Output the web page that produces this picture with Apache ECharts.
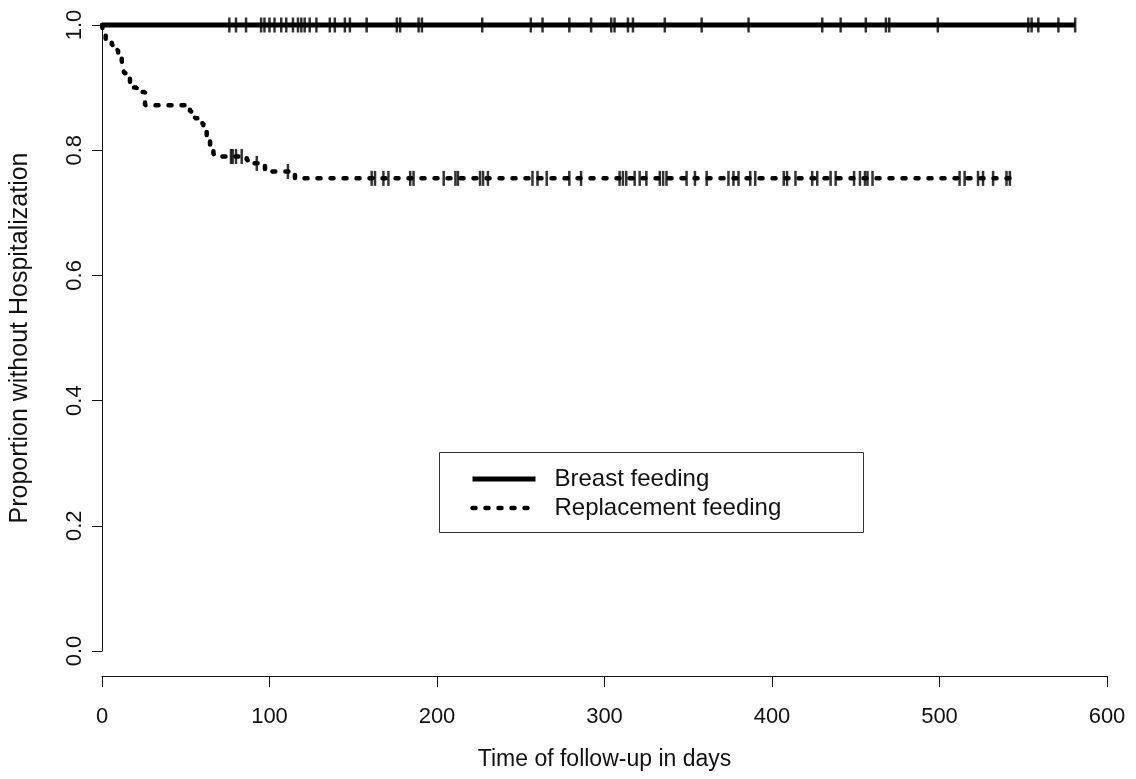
<!DOCTYPE html>
<html>
<head>
<meta charset="utf-8">
<script src="https://cdn.jsdelivr.net/npm/echarts@6/dist/echarts.min.js"></script>
<style>
html,body{margin:0;padding:0;background:#fff;}
#chart{width:1136px;height:779px;}
</style>
</head>
<body>
<div id="chart"></div>
<script>
// ---- data ----
const xTicks = [0, 100, 200, 300, 400, 500, 600];
const yTicks = [0.0, 0.2, 0.4, 0.6, 0.8, 1.0];

// Breast feeding: no events, survival stays at 1.0
const bfTimes = [0, 581];
const bfSurv  = [1.0, 1.0];
const bfCensor = [76, 80, 86, 95, 97, 100, 103, 107, 110, 114, 117, 119, 121, 124, 128, 136, 139, 145, 148, 158,
  176, 178, 189, 191, 227, 256, 263, 279, 292, 304, 306, 314, 317, 336, 358, 386, 430, 441, 456, 468, 470, 499,
  553, 555, 559, 571, 581];

// Replacement feeding: Kaplan-Meier steps (time, survival after event)
const rfTimes = [0, 1, 2.2, 5.8, 7.8, 9.6, 11.8, 12.5, 13.2, 14.7, 16.7, 18.5, 20.7, 25.7,
  52.5, 55.5, 58.5, 60.5, 62.5, 64.5, 66.5, 67.5, 86.4, 88.4, 97.3, 115.2, 542];
const rfSurv  = [1.0, 0.984, 0.976, 0.968, 0.960, 0.952, 0.942, 0.935, 0.923, 0.915, 0.907, 0.900, 0.893, 0.872,
  0.862, 0.851, 0.843, 0.832, 0.819, 0.806, 0.795, 0.790, 0.784, 0.779, 0.766, 0.755, 0.755];
const rfCensor = [77, 78, 80, 83.4, 92.4, 111, 161, 163, 168, 171, 184, 186, 204, 211, 212.5, 225.7, 227.5, 230.4,
  257, 260, 265.5, 279, 286, 309, 311, 313, 318, 321, 325, 333, 335, 337, 349, 354, 361, 374, 377, 380, 387, 390,
  407, 409, 414, 424, 427, 435, 438, 449, 452.5, 455.5, 457, 460, 512, 515, 523, 526, 532, 540, 542];

const seriesNames = ['Breast feeding', 'Replacement feeding'];
const xTitle = 'Time of follow-up in days';
const yTitle = 'Proportion without Hospitalization';

// ---- build ----
function survAt(times, surv, t) {
  let v = surv[0];
  for (let i = 0; i < times.length; i++) { if (times[i] <= t) v = surv[i]; }
  return v;
}
const bfData = bfTimes.map((t, i) => [t, bfSurv[i]]);
const rfData = rfTimes.map((t, i) => [t, rfSurv[i]]);
const bfCensorData = bfCensor.map(t => [t, survAt(bfTimes, bfSurv, t)]);
const rfCensorData = rfCensor.map(t => [t, survAt(rfTimes, rfSurv, t)]);

const FONT = '"Liberation Sans", Arial, Helvetica, sans-serif';
const chart = echarts.init(document.getElementById('chart'), null, {renderer: 'canvas'});
chart.setOption({
  animation: false,
  backgroundColor: '#ffffff',
  textStyle: {fontFamily: FONT, color: '#111'},
  grid: {left: 102, right: 29, top: 25, bottom: 128, containLabel: false, outerBoundsMode: 'none'},
  xAxis: {
    type: 'value', min: xTicks[0], max: xTicks[xTicks.length - 1], interval: 100,
    offset: 25,
    name: xTitle, nameLocation: 'middle', nameGap: 72, nameMoveOverlap: false,
    nameTextStyle: {fontSize: 23, color: '#111', fontFamily: FONT},
    axisLine: {show: true, onZero: false, lineStyle: {color: '#111', width: 1}},
    axisTick: {show: true, length: 11, lineStyle: {color: '#111', width: 1}},
    axisLabel: {fontSize: 22, color: '#111', margin: 30, fontFamily: FONT},
    splitLine: {show: false}
  },
  yAxis: {
    type: 'value', min: yTicks[0], max: yTicks[yTicks.length - 1], interval: 0.2,
    name: yTitle, nameLocation: 'middle', nameGap: 69, nameRotate: 90, nameMoveOverlap: false,
    nameTextStyle: {fontSize: 25, color: '#111', fontFamily: FONT},
    axisLine: {show: true, onZero: false, lineStyle: {color: '#111', width: 1}},
    axisTick: {show: true, length: 10, lineStyle: {color: '#111', width: 1}},
    axisLabel: {fontSize: 22, color: '#111', margin: 16, rotate: 90, fontFamily: FONT,
      formatter: v => v.toFixed(1)},
    splitLine: {show: false}
  },
  legend: {
    orient: 'vertical', left: 465, top: 462,
    itemWidth: 63, itemHeight: 14, itemGap: 5,
    data: seriesNames,
    textStyle: {fontSize: 24, color: '#111', fontFamily: FONT, padding: [0, 0, 0, 14]},
    lineStyle: {width: 'inherit'},
    itemStyle: {opacity: 0},
    selectedMode: false
  },
  graphic: [{
    type: 'rect', left: 437, top: 450, silent: true,
    shape: {width: 424, height: 80},
    style: {fill: 'none', stroke: '#333', lineWidth: 1}
  }],
  series: [
    {
      name: seriesNames[0], type: 'line', data: bfData, symbol: 'none', clip: false,
      lineStyle: {color: '#000', width: 5, type: 'solid'}, itemStyle: {color: '#000'}, z: 3
    },
    {
      name: seriesNames[1], type: 'line', data: rfData, step: 'end', symbol: 'none', clip: false,
      lineStyle: {color: '#000', width: 4.5, type: [3, 10], cap: 'round'}, itemStyle: {color: '#000'}, z: 3
    },
    {
      name: 'bfCensor', type: 'scatter', data: bfCensorData, symbol: 'rect', symbolSize: [2.5, 15],
      itemStyle: {color: '#000'}, clip: false, z: 4
    },
    {
      name: 'rfCensor', type: 'scatter', data: rfCensorData, symbol: 'rect', symbolSize: [2.5, 15],
      itemStyle: {color: '#000'}, clip: false, z: 4
    }
  ]
});
</script>
</body>
</html>
